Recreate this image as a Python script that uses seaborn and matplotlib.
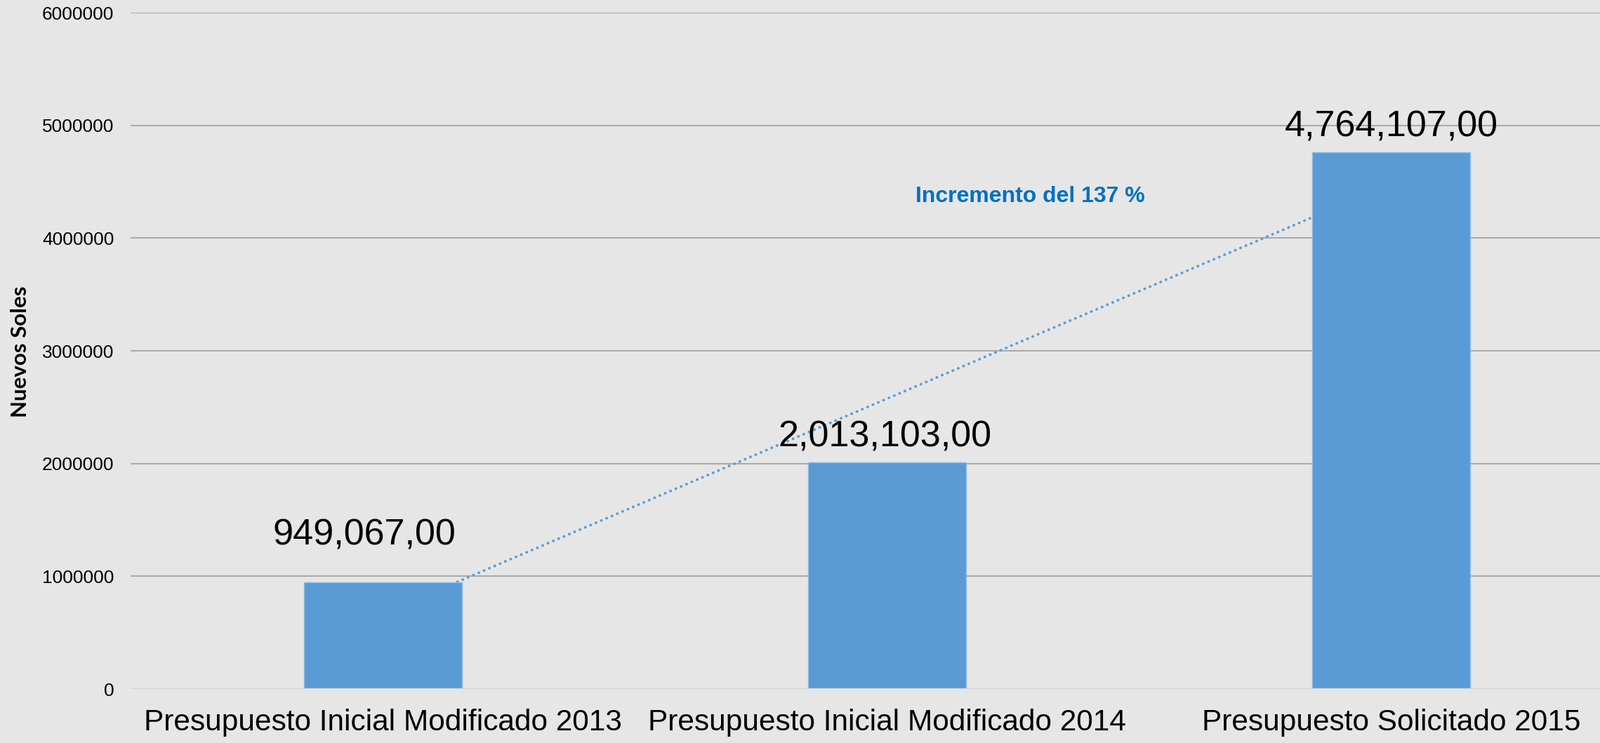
import numpy as np
import pandas as pd
import matplotlib
matplotlib.use("Agg")
import matplotlib.pyplot as plt
import seaborn as sns

# ---- data ----
categories = ["Presupuesto Inicial Modificado 2013",
              "Presupuesto Inicial Modificado 2014",
              "Presupuesto Solicitado 2015"]
values = [949067, 2013103, 4764107]
yticks = [0, 1000000, 2000000, 3000000, 4000000, 5000000, 6000000]
annotation_text = "Incremento del 137 %"
ylabel = "Nuevos Soles"

# ---- style ----
bg = "#E6E6E6"
bar_color = "#5B9BD5"
grid_color = "#ABABAB"
label_offsets = [(-19, 38), (-2, 16), (0, 16)]  # points

sns.set_theme(style="white")
plt.rcParams["font.family"] = ["Liberation Sans", "DejaVu Sans"]

fig = plt.figure(figsize=(22.79, 10.59), dpi=100, facecolor=bg)
ax_w = 2341 - 186
ax_h = 982 - 18
ax = fig.add_axes([186 / 2279, 1 - 982 / 1059, ax_w / 2279, ax_h / 1059])
ax.set_facecolor(bg)

df = pd.DataFrame({"cat": categories, "val": values, "pos": np.arange(len(values))})

sns.barplot(data=df, x="cat", y="val", color=bar_color, width=0.313,
            saturation=1, ax=ax, zorder=3, edgecolor="#8DBAE3", linewidth=1)

sns.regplot(data=df, x="pos", y="val", scatter=False, ci=None, ax=ax,
            truncate=True,
            line_kws=dict(color=bar_color, lw=2.7, linestyle=(0, (0.1, 2.1)),
                          dash_capstyle="round", zorder=2))

ax.set_xlim(-0.5, 2.5)
ax.set_ylim(0, 6000000)
ax.set_yticks(yticks)
ax.set_yticklabels([str(t) for t in yticks])
ax.set_xticks(range(len(categories)))
ax.set_xticklabels(categories)

for t in yticks[1:]:
    ax.axhline(t, color=grid_color, lw=1.5, zorder=1)
ax.axhline(0, color="#D4D4D4", lw=1.5, zorder=4)

for s in ax.spines.values():
    s.set_visible(False)

ax.tick_params(axis="y", length=0, pad=17, labelsize=19, labelcolor="black")
ax.tick_params(axis="x", length=0, pad=20, labelsize=30.5, labelcolor="black")

ax.set_xlabel("")
ax.set_ylabel(ylabel, fontsize=22.5, fontweight="bold", family=["Lato", "DejaVu Sans"],
              color="black", labelpad=0)
ax.yaxis.set_label_coords((43 - 186) / ax_w, (982 - 501) / ax_h)

for i, v in enumerate(values):
    ax.annotate(f"{v:,.0f},00", xy=(i, v), xytext=label_offsets[i],
                textcoords="offset points", ha="center", va="baseline",
                fontsize=37.5, color="black", zorder=5)

ax.text(1.284, 4368000, annotation_text, ha="center", va="center",
        fontsize=23, fontweight="bold", color="#0070C0", zorder=5)

fig.savefig("out.png", dpi=100, facecolor=bg)
